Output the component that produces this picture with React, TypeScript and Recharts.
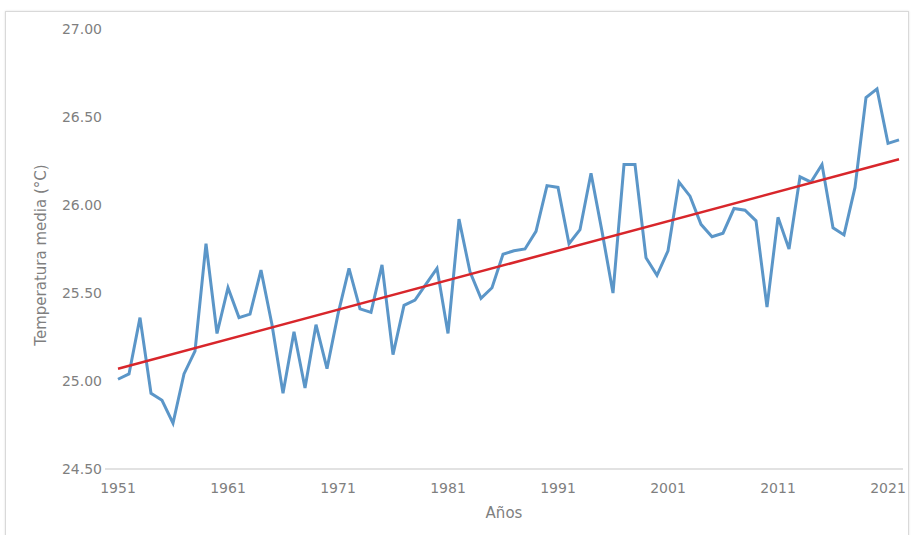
import { LineChart, Line, XAxis, YAxis, Label } from "recharts";

// Años 1951-2022
const years = [
  1951, 1952, 1953, 1954, 1955, 1956, 1957, 1958, 1959, 1960,
  1961, 1962, 1963, 1964, 1965, 1966, 1967, 1968, 1969, 1970,
  1971, 1972, 1973, 1974, 1975, 1976, 1977, 1978, 1979, 1980,
  1981, 1982, 1983, 1984, 1985, 1986, 1987, 1988, 1989, 1990,
  1991, 1992, 1993, 1994, 1995, 1996, 1997, 1998, 1999, 2000,
  2001, 2002, 2003, 2004, 2005, 2006, 2007, 2008, 2009, 2010,
  2011, 2012, 2013, 2014, 2015, 2016, 2017, 2018, 2019, 2020,
  2021, 2022,
];

// temperatura media anual (°C)
const temps = [
  25.01, 25.04, 25.36, 24.93, 24.89, 24.76, 25.04, 25.17, 25.78, 25.27,
  25.53, 25.36, 25.38, 25.63, 25.32, 24.93, 25.28, 24.96, 25.32, 25.07,
  25.38, 25.64, 25.41, 25.39, 25.66, 25.15, 25.43, 25.46, 25.55, 25.64,
  25.27, 25.92, 25.62, 25.47, 25.53, 25.72, 25.74, 25.75, 25.85, 26.11,
  26.1, 25.78, 25.86, 26.18, 25.85, 25.5, 26.23, 26.23, 25.7, 25.6,
  25.74, 26.13, 26.05, 25.89, 25.82, 25.84, 25.98, 25.97, 25.91, 25.42,
  25.93, 25.75, 26.16, 26.13, 26.23, 25.87, 25.83, 26.1, 26.61, 26.66,
  26.35, 26.37,
];

// linear trend, ends only
const trendStart = 25.07;
const trendEnd = 26.26;

const yTicks = [24.5, 25, 25.5, 26, 26.5, 27];

const data = years.map((y, i) => ({
  year: String(y),
  temp: temps[i],
  trend: i === 0 ? trendStart : i === years.length - 1 ? trendEnd : null,
}));

const font = "'DejaVu Sans', Verdana, sans-serif";
const gray = "#7f7f7f";

export default function App() {
  return (
    <div style={{ position: "absolute", left: 0, top: 0, width: 911, height: 535, background: "#fff", overflow: "hidden" }}>
      <div
        style={{
          position: "absolute",
          left: 5,
          top: 11,
          width: 902,
          height: 540,
          border: "1px solid #d9d9d9",
          boxShadow: "0 0 2px rgba(0,0,0,0.12)",
        }}
      />
      <div style={{ position: "absolute", left: 0, top: 0 }}>
        <LineChart
          width={911}
          height={535}
          data={data}
          margin={{ top: 29, right: 8, bottom: 0, left: 0 }}
        >
          <XAxis
            dataKey="year"
            interval={9}
            height={66}
            padding={{ left: 13, right: 4 }}
            tickLine={false}
            tickSize={0}
            tickMargin={14}
            axisLine={{ stroke: "#d9d9d9", strokeWidth: 1.5 }}
            tick={{ fill: gray, fontSize: 14, fontFamily: font }}
          >
            <Label
              value="Años"
              position="insideBottom"
              offset={17}
              fill={gray}
              fontSize={15}
              fontFamily={font}
            />
          </XAxis>
          <YAxis
            width={105}
            domain={[24.5, 27]}
            ticks={yTicks}
            tickFormatter={(v: number) => v.toFixed(2)}
            axisLine={false}
            tickLine={false}
            tickSize={0}
            tickMargin={3}
            tick={{ fill: gray, fontSize: 14, fontFamily: font }}
          >
            <Label
              content={({ viewBox }: any) => {
                const cx = viewBox.x + 41;
                const cy = viewBox.y + viewBox.height / 2 + 6;
                return (
                  <text
                    x={cx}
                    y={cy}
                    transform={`rotate(-90 ${cx} ${cy})`}
                    textAnchor="middle"
                    dominantBaseline="central"
                    fill={gray}
                    fontSize={15}
                    fontFamily={font}
                  >
                    Temperatura media (°C)
                  </text>
                );
              }}
            />
          </YAxis>
          <Line
            type="linear"
            dataKey="temp"
            stroke="#5b96c8"
            strokeWidth={3}
            dot={false}
            activeDot={false}
            isAnimationActive={false}
          />
          <Line
            type="linear"
            dataKey="trend"
            stroke="#d8262b"
            strokeWidth={2.5}
            dot={false}
            activeDot={false}
            connectNulls
            isAnimationActive={false}
          />
        </LineChart>
      </div>
    </div>
  );
}
